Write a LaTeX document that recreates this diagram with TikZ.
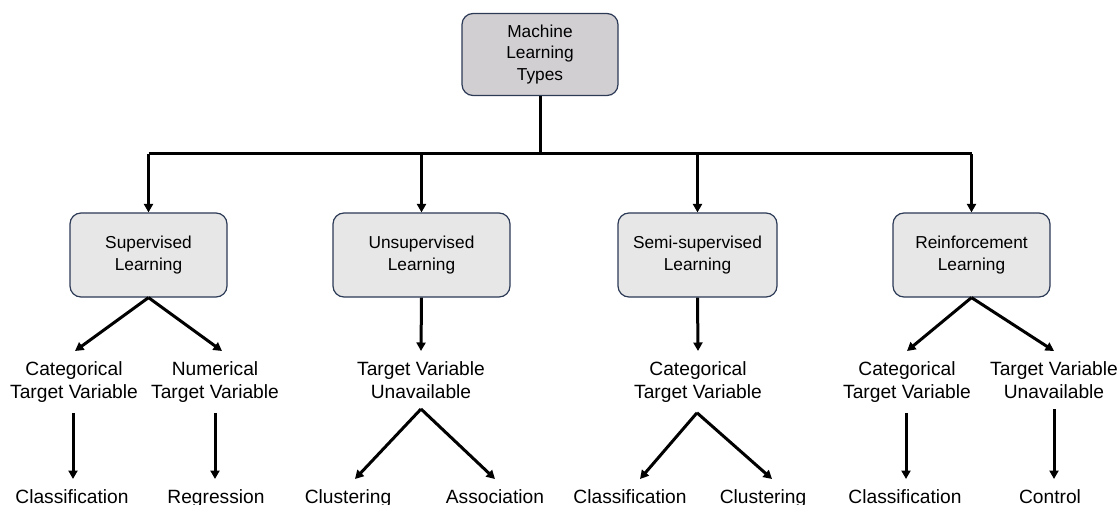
\documentclass[tikz,border=0pt]{standalone}
\usepackage{fontspec}
\setmainfont{Liberation Sans}
\usetikzlibrary{arrows.meta}

\definecolor{boxedge}{RGB}{44,58,86}
\definecolor{rootfill}{RGB}{209,207,210}
\definecolor{typefill}{RGB}{231,231,231}

\tikzset{
  typebox/.style={draw=boxedge, line width=1.2pt, rounded corners=11pt,
    fill=typefill, minimum width=157pt, minimum height=84pt, align=center,
    font=\fontsize{17.3}{22}\selectfont, inner sep=2pt},
  rootbox/.style={typebox, fill=rootfill, minimum width=156pt,
    minimum height=82pt, font=\fontsize{17.3}{21.5}\selectfont},
  lbl/.style={align=center, font=\fontsize{19.2}{23.5}\selectfont,
    inner xsep=1pt, inner ysep=10pt, anchor=north},
  wire/.style={line width=3pt, black},
  arr/.style={wire, -{Triangle[length=8.5pt,width=9pt]}},
}

\begin{document}
\begin{tikzpicture}[x=1pt,y=-1pt]
\useasboundingbox (0,0) rectangle (1119,505);

% root and the four learning types
\node[rootbox] (root) at (540,54.5) {Machine\\Learning\\Types};
\node[typebox] (sup)  at (148.5,255) {Supervised\\Learning};
\node[typebox, minimum width=177pt] (uns) at (421.5,255) {Unsupervised\\Learning};
\node[typebox, minimum width=159pt] (semi) at (697.5,255) {Semi-supervised\\Learning};
\node[typebox] (rl)   at (971.5,255) {Reinforcement\\Learning};

% bus from the root to the four types
\coordinate (bus) at (540,154);
\draw[wire] (root.south) -- (bus);
\draw[wire, line cap=square] (sup.north |- bus) -- (rl.north |- bus);
\foreach \t in {sup,uns,semi,rl}
  \draw[arr] (\t.north |- bus) -- (\t.north);

% target-variable descriptions
\node[lbl] (sup-cat) at (74,351)  {Categorical\\Target Variable};
\node[lbl] (sup-num) at (215,351) {Numerical\\Target Variable};
\node[lbl] (uns-tv)  at (421,351) {Target Variable\\Unavailable};
\node[lbl] (semi-cat) at (698,351) {Categorical\\Target Variable};
\node[lbl] (rl-cat)  at (907,351) {Categorical\\Target Variable};
\node[lbl] (rl-tv)   at (1054,351) {Target Variable\\Unavailable};

% tasks
\node[lbl] (sup-cls)  at (72,479)  {Classification};
\node[lbl] (sup-reg)  at (216,479) {Regression};
\node[lbl] (uns-clu)  at (348,479) {Clustering};
\node[lbl] (uns-ass)  at (495,479) {Association};
\node[lbl] (semi-cls) at (630,479) {Classification};
\node[lbl] (semi-clu) at (763,479) {Clustering};
\node[lbl] (rl-cls)   at (905,479) {Classification};
\node[lbl] (rl-ctl)   at (1050,479) {Control};

% type -> description
\draw[arr] (sup.south) -- ([xshift=1pt]sup-cat.north);
\draw[arr] (sup.south) -- ([xshift=7pt]sup-num.north);
\draw[arr] (uns.south) -- (uns-tv.north);
\draw[arr] (semi.south) -- (semi-cat.north);
\draw[arr] (rl.south) -- (rl-cat.north);
\draw[arr] (rl.south) -- (rl-tv.north);

% description -> task
\draw[arr] ([xshift=-1pt]sup-cat.south) -- ([xshift=-1pt]sup-cat.south |- sup-cls.north);
\draw[arr] (sup-num.south) -- (sup-num.south |- sup-reg.north);
\draw[arr] (uns-tv.south) -- ([xshift=7pt]uns-clu.north);
\draw[arr] (uns-tv.south) -- (uns-ass.north);
\draw[arr] ([xshift=-1pt]semi-cat.south) -- ([xshift=10pt]semi-cls.north);
\draw[arr] ([xshift=-1pt]semi-cat.south) -- ([xshift=9pt]semi-clu.north);
\draw[arr] ([xshift=-1pt]rl-cat.south) -- ([xshift=-1pt]rl-cat.south |- rl-cls.north);
\draw[arr] (rl-tv.south) -- (rl-tv.south |- rl-ctl.north);
\end{tikzpicture}
\end{document}
